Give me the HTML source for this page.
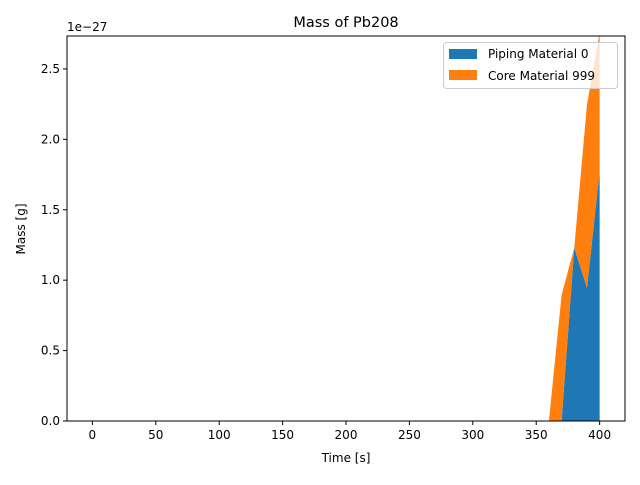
<!DOCTYPE html>
<html><head><meta charset="utf-8"><style>
body{margin:0;background:#fff;font-family:"Liberation Sans","DejaVu Sans",sans-serif;}
svg text{font-family:"DejaVu Sans","Liberation Sans",sans-serif;fill:#000;}
</style></head><body>
<svg id="c" width="640" height="480"></svg>
<script>
const times=[];for(let t=0;t<=400;t+=10)times.push(t);
const pipingNonzero={370:0,380:1.23,390:0.945,400:1.77};
const coreNonzero={360:0,370:0.895,380:0,390:1.30,400:0.99};
const xTicks=[0,50,100,150,200,250,300,350,400];
const yTicks=[0,0.5,1.0,1.5,2.0,2.5];
const yTickLabels=["0.0","0.5","1.0","1.5","2.0","2.5"];
const piping=times.map(t=>pipingNonzero[t]||0);
const core=times.map(t=>coreNonzero[t]||0);
const L=67,R=625,T=36,B=421,xmin=-20,xmax=420,ymin=0,ymax=2.734;
const X=v=>L+(v-xmin)/(xmax-xmin)*(R-L);
const Y=v=>B-(v-ymin)/(ymax-ymin)*(B-T);
const svg=document.getElementById('c');const NS='http://www.w3.org/2000/svg';
function mk(tag,attrs,parent){const e=document.createElementNS(NS,tag);for(const k in attrs)e.setAttribute(k,attrs[k]);(parent||svg).appendChild(e);return e;}
const defs=mk('defs',{});const cp=mk('clipPath',{id:'clip'},defs);mk('rect',{x:L,y:T,width:R-L,height:B-T},cp);
const g=mk('g',{'clip-path':'url(#clip)'});
function area(lo,hi,color,name){let d='M'+times.map((t,i)=>X(t)+','+Y(hi[i])).join('L');
for(let i=times.length-1;i>=0;i--)d+='L'+X(times[i])+','+Y(lo[i]);
const p=mk('path',{d:d+'Z',fill:color},g);

}
const zero=times.map(()=>0);const total=times.map((t,i)=>piping[i]+core[i]);
area(zero,piping,'#1f77b4','piping-area');
area(piping,total,'#ff7f0e','core-area');
mk('rect',{x:L,y:T,width:R-L,height:B-T,fill:'none',stroke:'#000','stroke-width':1});
xTicks.forEach(v=>{mk('line',{x1:X(v),x2:X(v),y1:B,y2:B+4,stroke:'#000'});
const t=mk('text',{x:X(v),y:B+18,'text-anchor':'middle','font-size':12});t.textContent=v;

});
yTicks.forEach((v,i)=>{mk('line',{x1:L-4,x2:L,y1:Y(v),y2:Y(v),stroke:'#000'});
const t=mk('text',{x:L-7,y:Y(v)+4,'text-anchor':'end','font-size':12});t.textContent=yTickLabels[i];

});
</script>
<svg width="640" height="480" style="position:absolute;left:0;top:0">
<text x="67" y="31" font-size="12">1e−27</text>
<text x="346" y="27" font-size="14.5" text-anchor="middle">Mass of Pb208</text>
<text x="346" y="462" font-size="12" text-anchor="middle">Time [s]</text>
<text x="25" y="229" font-size="12" text-anchor="middle" transform="rotate(-90 25 229)">Mass [g]</text>
<g>
<rect x="443.5" y="42.5" width="174" height="46" rx="3" fill="#fff" fill-opacity="0.8" stroke="#ccc"/>
<rect x="449" y="49" width="28" height="10" fill="#1f77b4"/>
<text x="488" y="58" font-size="12">Piping Material 0</text>
<rect x="449" y="70" width="28" height="10" fill="#ff7f0e"/>
<text x="488" y="80" font-size="12">Core Material 999</text>
</g>
</svg>
</body></html>
